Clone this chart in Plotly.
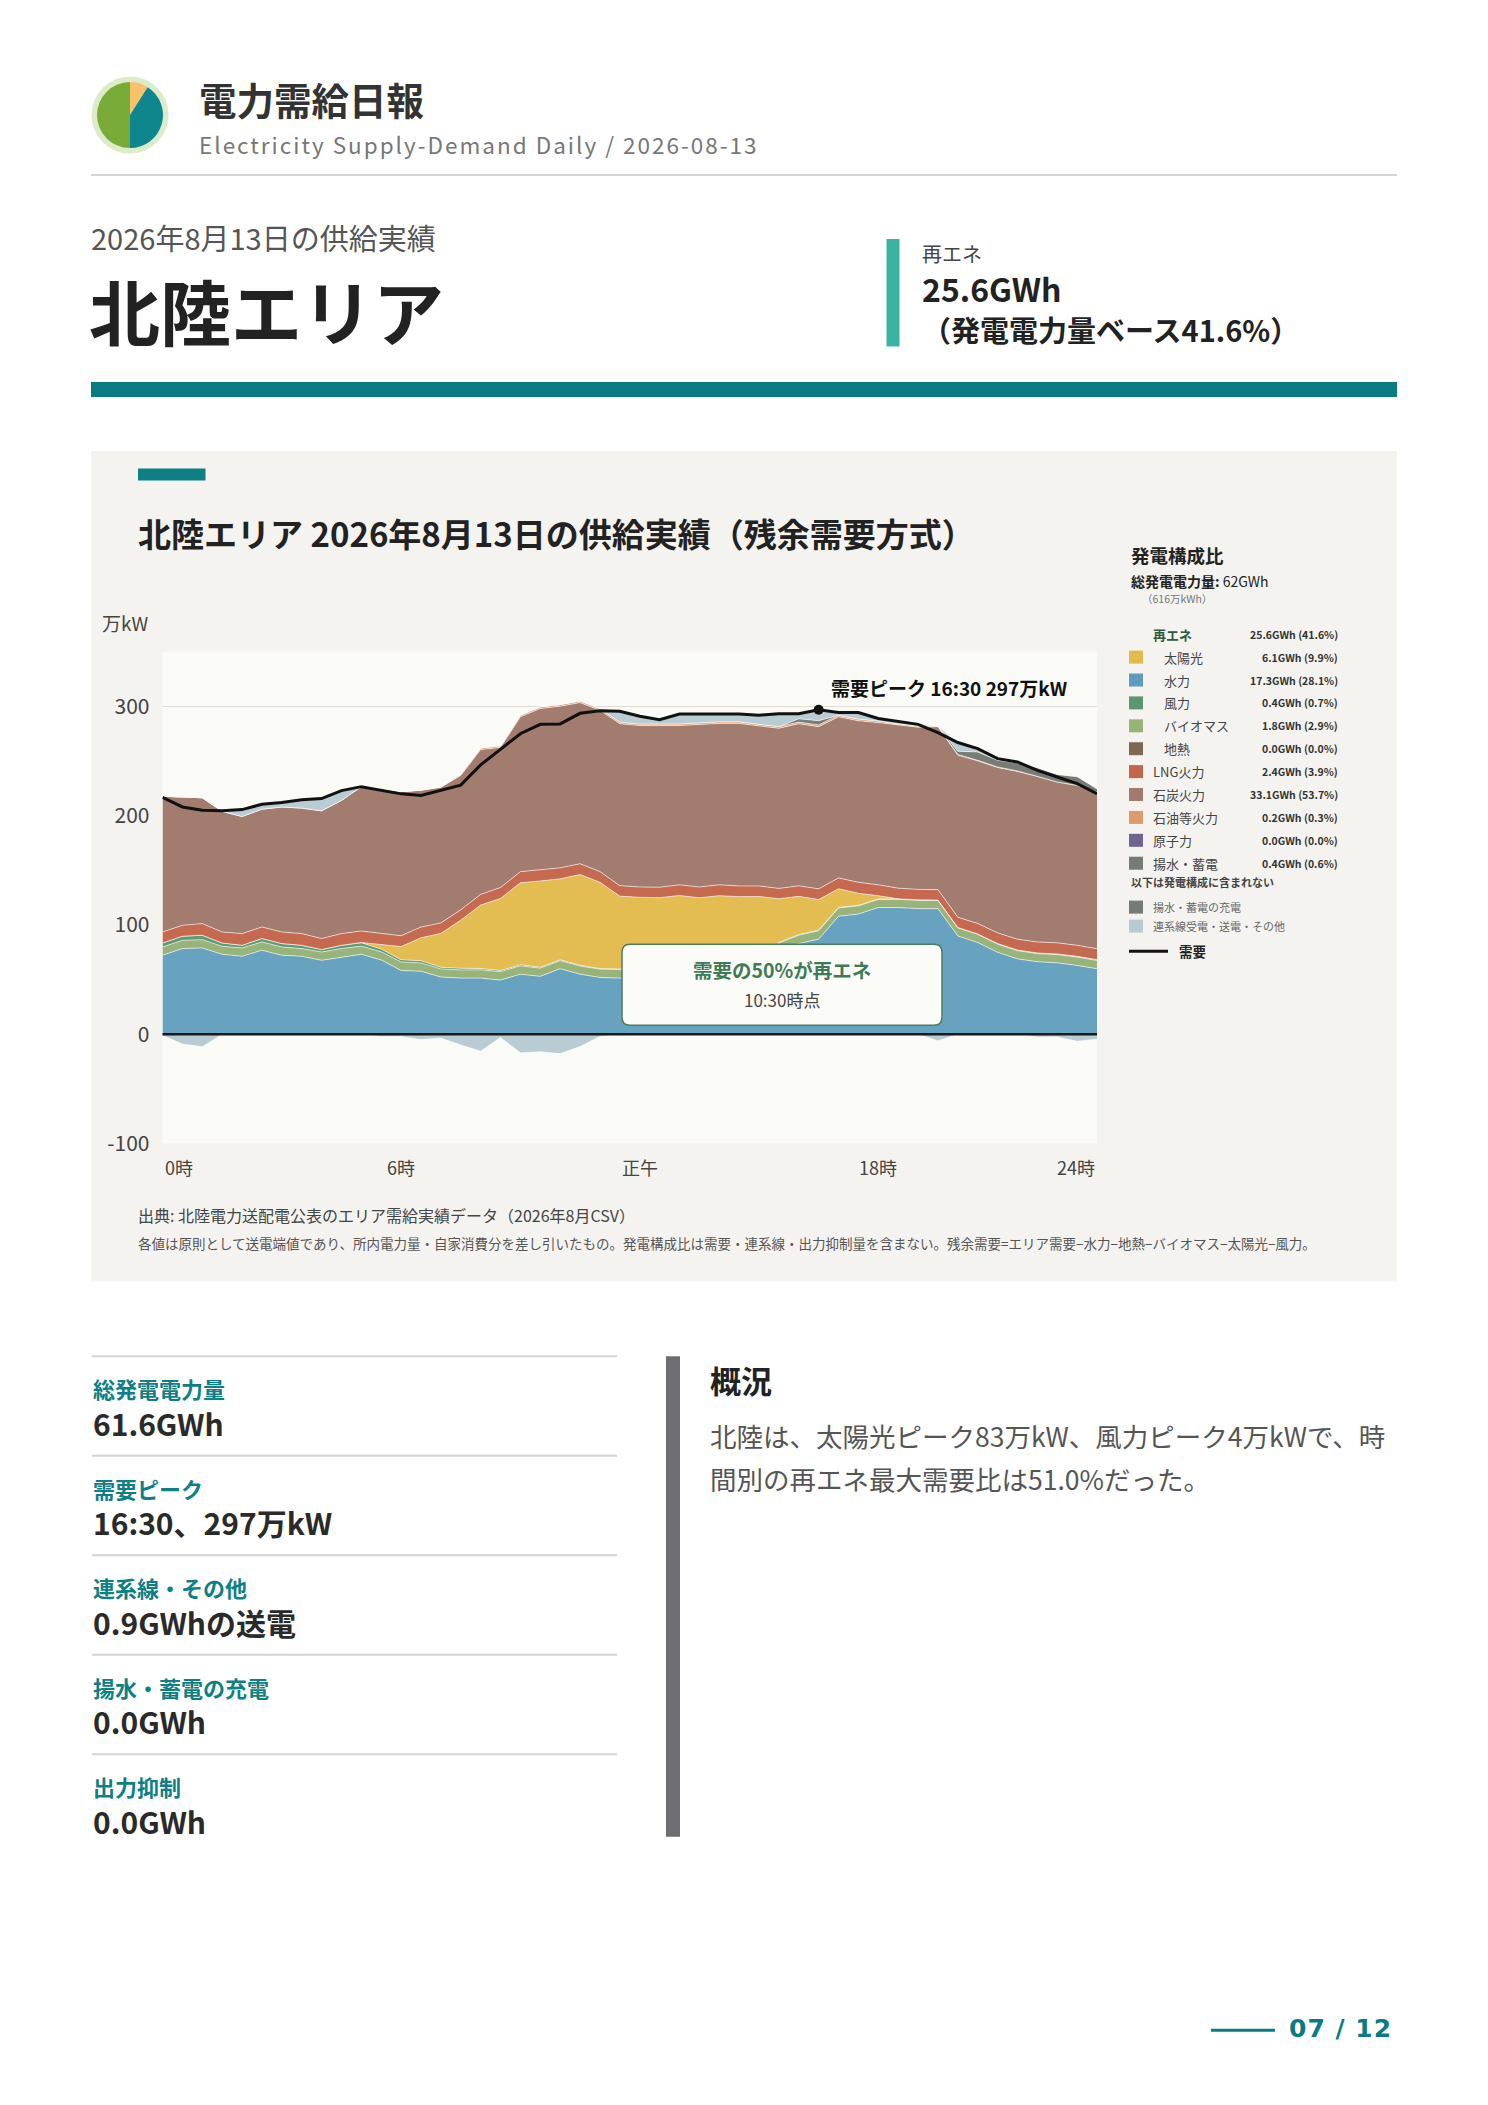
import plotly.graph_objects as go

# ページ座標（1488x2105）で配置。body の余白 8px 分をずらし、縦方向は撮影時の縮みを補正
OFF = 8
KY = 1.0064
W, H = 1440, 2070
FONT = "Noto Sans CJK JP, Noto Sans, sans-serif"

# 30分値 0:00〜23:30（万kW）
times = [f"{h:02d}:{m:02d}" for h in range(24) for m in (0, 30)]

hydro = [72.3, 78.4, 79.0, 73.2, 71.4, 76.9, 72.3, 71.4, 67.7, 70.7,
         73.2, 68.0, 58.4, 57.7, 52.4, 51.4, 51.4, 49.6, 55.0, 53.0,
         60.0, 55.0, 52.0, 51.4, 51.4, 51.0, 51.0, 51.0, 52.0, 53.0,
         58.0, 76.0, 83.0, 87.0, 108.0, 110.0, 116.0, 116.0, 115.0, 115.0,
         90.0, 84.0, 75.0, 69.0, 66.4, 65.4, 63.0, 60.0]
biomass = [7.6, 7.6, 7.6, 7.3, 7.6, 7.6, 7.6, 7.0, 7.6, 7.7,
           7.5, 7.5, 7.8, 7.6, 7.4, 7.5, 7.6, 7.7, 7.6, 7.5,
           7.4, 7.5, 7.6, 7.5, 7.4, 7.5, 7.6, 7.5, 7.4, 7.5,
           7.6, 7.5, 7.6, 7.7, 7.6, 7.5, 7.4, 7.5, 7.6, 7.5,
           7.4, 7.5, 7.6, 7.5, 7.4, 7.5, 7.6, 7.5]
wind = [3.6, 3.7, 4.0, 3.0, 2.4, 3.1, 3.1, 3.0, 2.2, 3.0,
        3.0, 2.5, 2.0, 2.0, 1.5, 1.5, 1.2, 1.0, 1.0, 0.8,
        0.8, 0.6, 0.5, 0.5, 0.5, 0.5, 0.4, 0.4, 0.4, 0.4,
        0.5, 0.5, 0.6, 0.6, 0.5, 0.5, 0.4, 0.4, 0.4, 0.3,
        0.3, 0.3, 0.4, 0.5, 0.6, 0.6, 0.7, 0.8]
solar = [0, 0, 0, 0, 0, 0, 0, 0, 0, 0,
         0.3, 4, 12, 21, 31, 44, 58, 66, 75, 79,
         74, 83, 79, 67, 66, 66, 68, 66, 67, 65,
         60, 40, 35, 28, 17, 11, 3, 0, 0, 0,
         0, 0, 0, 0, 0, 0, 0, 0]
lng = [10.1, 10.0, 10.7, 10.1, 10.7, 10.6, 10.6, 10.7, 10.1, 10.7,
       10.5, 10.2, 10.0, 9.8, 9.6, 9.5, 9.8, 10.0, 10.2, 10.3,
       10.1, 10.0, 9.8, 9.6, 9.5, 9.6, 9.8, 9.9, 10.0, 9.8,
       9.6, 9.5, 9.6, 9.8, 10.0, 10.1, 10.0, 9.8, 9.6, 9.5,
       9.4, 9.6, 9.8, 10.0, 10.1, 10.2, 10.1, 10.0]
coal = [124.2, 117.3, 115.1, 110.4, 107.2, 107.8, 114.4, 114.9, 116.9, 121.9,
        132.1, 132.8, 131.8, 125.3, 124.1, 122.9, 132.5, 128.2, 141.7, 147.5,
        147.9, 147.4, 147.6, 148.2, 147.7, 147.9, 145.7, 148.7, 147.7, 148.8,
        146.8, 146.5, 148.4, 148.4, 147.4, 147.9, 148.4, 149.3, 148.4, 149.2,
        148.4, 148.8, 151.3, 153.5, 151.5, 147.1, 146.4, 143.4]
oil = [0, 0, 0, 0, 0, 0, 0, 0, 0, 0,
       0, 0, 0, 0, 0.5, 1.0, 1.5, 1.5, 1.5, 1.5,
       1.5, 1.5, 1.5, 1.5, 1.5, 1.5, 1.5, 1.5, 1.5, 1.5,
       1.5, 1.5, 1.5, 1.5, 1.5, 1.5, 1.5, 1.0, 1.0, 0.5,
       0.5, 0.5, 0.5, 0.5, 0, 0, 0, 0]
pumped = [0, 0, 0, 0, 0, 0, 0, 0, 0, 0,
          0, 0, 0, 0, 0, 0, 0, 0, 0, 0,
          0, 0, 0, 0, 0, 0, 0, 0, 0, 0,
          0, 0, 3.0, 4.0, 0, 0, 0, 0, 0, 0,
          3.0, 7.6, 6.1, 7.3, 8.0, 7.0, 8.0, 3.0]
# 連系線（+受電 / −送電）
interconnect = [-1.0, -9.0, -11.4, 0.5, 6.3, 4.5, 4.0, 7.7, 11.2, 9.0,
                0.0, -2.0, -2.0, -4.9, -3.5, -9.8, -15.5, -3.0, -17.0, -16.0,
                -17.7, -11.3, -2.0, 9.8, 7.0, 3.8, 9.0, 8.0, 6.7, 7.0,
                8.0, 11.9, 4.7, 10.9, 2.4, 5.9, 2.3, 2.0, 1.6, -6.0,
                8.0, 3.1, 1.5, 0.9, -2.5, -2.4, -6.4, -4.5]
demand = [216.8, 208.0, 205.0, 204.5, 205.6, 210.5, 212.0, 214.7, 215.7, 223.0,
          226.6, 223.0, 220.0, 218.5, 223.0, 228.0, 246.5, 261.0, 275.0, 283.6,
          284.0, 293.7, 296.0, 295.5, 291.0, 287.8, 293.0, 293.0, 292.7, 293.0,
          292.0, 293.4, 293.4, 297.0, 294.4, 294.4, 289.0, 286.0, 283.6, 276.0,
          267.0, 261.4, 252.2, 249.2, 241.5, 235.4, 229.4, 220.2]

xtick_hours = [0, 6, 12, 18, 24]
xtick_labels = ["0時", "6時", "正午", "18時", "24時"]
ytick_vals = [-100, 0, 100, 200, 300]
ytick_text = ["-100", "0", "100", "200", "300"]

# 凡例（発電構成比）
mix_names = ["太陽光", "水力", "風力", "バイオマス", "地熱", "LNG火力", "石炭火力", "石油等火力", "原子力", "揚水・蓄電"]
mix_values = ["6.1GWh (9.9%)", "17.3GWh (28.1%)", "0.4GWh (0.7%)", "1.8GWh (2.9%)", "0.0GWh (0.0%)",
              "2.4GWh (3.9%)", "33.1GWh (53.7%)", "0.2GWh (0.3%)", "0.0GWh (0.0%)", "0.4GWh (0.6%)"]
mix_colors = ["#e2ba4e", "#5d9cc0", "#5a9770", "#97b477", "#7d6a55",
              "#c4664c", "#a27b6e", "#df9a6b", "#6d6592", "#767c74"]
mix_renew = [True, True, True, True, True, False, False, False, False, False]
excluded_names = ["揚水・蓄電の充電", "連系線受電・送電・その他"]
excluded_colors = ["#767c74", "#b8cad2"]

stat_labels = ["総発電電力量", "需要ピーク", "連系線・その他", "揚水・蓄電の充電", "出力抑制"]
stat_values = ["61.6GWh", "16:30、297万kW", "0.9GWhの送電", "0.0GWh", "0.0GWh"]

logo_share = [9, 41, 50]
logo_colors = ["#f6c36b", "#0e868d", "#78ab38"]

hours = [int(t[:2]) + int(t[3:]) / 60 for t in times]
imp_pos = [max(v, 0) for v in interconnect]
imp_neg = [min(v, 0) for v in interconnect]


def px(x):
    return (x - OFF) / W


def py(y):
    return 1 - (y * KY - OFF) / H


fig = go.Figure()

# 積み上げ面（残余需要方式）
stack = [
    (hydro, "#68a2c1"), (biomass, "#98b47a"), (wind, "#5e9a73"), (solar, "#e3bc52"),
    (lng, "#c56a50"), (coal, "#a27c6f"), (oil, "#df9a6b"), (pumped, "#777d75"),
    (imp_pos, "#b9cbd3"),
]
for vals, col in stack:
    fig.add_trace(go.Scatter(
        x=hours, y=vals, stackgroup="pos", mode="lines",
        line=dict(color="rgba(255,255,255,0.75)", width=0.8),
        fillcolor=col, hoverinfo="skip", showlegend=False))
fig.add_trace(go.Scatter(
    x=hours, y=imp_neg, stackgroup="neg", mode="lines",
    line=dict(color="rgba(255,255,255,0.75)", width=0.8),
    fillcolor="#b9cbd3", hoverinfo="skip", showlegend=False))

fig.add_trace(go.Scatter(x=hours, y=demand, mode="lines",
                         line=dict(color="#111111", width=3), hoverinfo="skip", showlegend=False))
ipk = demand.index(max(demand))
fig.add_trace(go.Scatter(x=[hours[ipk]], y=[demand[ipk]], mode="markers",
                         marker=dict(color="#111111", size=10), hoverinfo="skip", showlegend=False))

fig.add_trace(go.Pie(values=logo_share, marker=dict(colors=logo_colors, line=dict(width=0)),
                     sort=False, direction="clockwise", textinfo="none", hoverinfo="skip",
                     domain=dict(x=[px(97), px(163)], y=[py(148), py(82)]), showlegend=False))

x_dom = [px(162.5), px(1097)]
y_dom = [py(1143.4), py(651.7)]
y_rng = [-100, 350]
zero_pos = y_dom[0] + (0 - y_rng[0]) / (y_rng[1] - y_rng[0]) * (y_dom[1] - y_dom[0])

fig.update_layout(
    width=W, height=H, margin=dict(l=0, r=0, t=0, b=0),
    paper_bgcolor="white", plot_bgcolor="rgba(0,0,0,0)",
    font=dict(family=FONT, color="#333"),
    xaxis=dict(domain=x_dom, range=[0, 23.5], showgrid=False, zeroline=False,
               showticklabels=False, fixedrange=True),
    xaxis2=dict(overlaying="x", anchor="free", position=zero_pos, range=[0, 23.5],
                tickvals=xtick_hours[:-1], ticks="outside", ticklen=6, tickcolor="#999",
                showticklabels=False, showgrid=False, zeroline=False, showline=False),
    yaxis=dict(domain=y_dom, range=y_rng, tickvals=ytick_vals, ticktext=ytick_text,
               gridcolor="#e0ddd7", zeroline=False, tickfont=dict(size=21, color="#444"),
               ticklabelstandoff=12, fixedrange=True),
)

# 背景・装飾
shapes = [
    dict(type="rect", xref="paper", yref="paper", x0=px(91), x1=px(1397), y0=py(1281), y1=py(451),
         fillcolor="#f4f3ef", line=dict(width=0), layer="below"),
    dict(type="rect", xref="x domain", yref="y domain", x0=0, x1=1, y0=0, y1=1,
         fillcolor="#fafaf6", line=dict(width=0), layer="below"),
    dict(type="circle", xref="paper", yref="paper", x0=px(91.5), x1=px(168.5), y0=py(153.5), y1=py(76.5),
         fillcolor="#dcebc8", line=dict(width=0), layer="below"),
    dict(type="line", xref="paper", yref="paper", x0=px(91), x1=px(1397), y0=py(175), y1=py(175),
         line=dict(color="#d4d4d4", width=2)),
    dict(type="rect", xref="paper", yref="paper", x0=px(886.5), x1=px(899.5), y0=py(346.5), y1=py(239),
         fillcolor="#3ab4a2", line=dict(width=0)),
    dict(type="rect", xref="paper", yref="paper", x0=px(91), x1=px(1397), y0=py(397), y1=py(382),
         fillcolor="#0a7b83", line=dict(width=0)),
    dict(type="rect", xref="paper", yref="paper", x0=px(138), x1=px(205.5), y0=py(480.5), y1=py(468.5),
         fillcolor="#0f7f86", line=dict(width=0)),
    dict(type="rect", xref="paper", yref="paper", x0=px(666), x1=px(680), y0=py(1836.5), y1=py(1356),
         fillcolor="#6e6e72", line=dict(width=0)),
    dict(type="line", xref="paper", yref="paper", x0=px(1211), x1=px(1275), y0=py(2030), y1=py(2030),
         line=dict(color="#0a7b83", width=3)),
]
for k in range(5):
    yy = 1356 + 99.5 * k
    shapes.append(dict(type="line", xref="paper", yref="paper", x0=px(92), x1=px(617),
                       y0=py(yy), y1=py(yy), line=dict(color="#d3d3d3", width=2)))


def rounded_path(x0, y0, x1, y1, r):
    return (f"M {px(x0 + r)},{py(y0)} L {px(x1 - r)},{py(y0)} Q {px(x1)},{py(y0)} {px(x1)},{py(y0 + r)} "
            f"L {px(x1)},{py(y1 - r)} Q {px(x1)},{py(y1)} {px(x1 - r)},{py(y1)} "
            f"L {px(x0 + r)},{py(y1)} Q {px(x0)},{py(y1)} {px(x0)},{py(y1 - r)} "
            f"L {px(x0)},{py(y0 + r)} Q {px(x0)},{py(y0)} {px(x0 + r)},{py(y0)} Z")


shapes.append(dict(type="path", xref="paper", yref="paper", path=rounded_path(622, 944, 942, 1025, 8),
                   fillcolor="#fbfbf8", line=dict(color="#4b7d5d", width=1.5)))

# 凡例のスウォッチ
leg_y = [657 + 22.9 * k for k in range(len(mix_names))]
for yy, col in zip(leg_y, mix_colors):
    shapes.append(dict(type="rect", xref="paper", yref="paper", x0=px(1129), x1=px(1143),
                       y0=py(yy + 6.5), y1=py(yy - 6.5), fillcolor=col, line=dict(width=0)))
for yy, col in zip([907, 926], excluded_colors):
    shapes.append(dict(type="rect", xref="paper", yref="paper", x0=px(1129), x1=px(1143),
                       y0=py(yy + 6.5), y1=py(yy - 6.5), fillcolor=col, line=dict(width=0)))
shapes.append(dict(type="line", xref="paper", yref="paper", x0=px(1129), x1=px(1168),
                   y0=py(951), y1=py(951), line=dict(color="#111", width=3)))
fig.update_layout(shapes=shapes)
fig.add_hline(y=0, line_color="#1a1a1a", line_width=2.5, layer="above")


def text(x, y, s, size, color="#333", weight="normal", xanchor="left", family=FONT):
    fig.add_annotation(x=px(x), y=py(y), xref="paper", yref="paper", text=s, showarrow=False,
                       xanchor=xanchor, yanchor="middle",
                       font=dict(family=family, size=size, color=color, weight=weight))


# ヘッダー
text(197, 98, "電力需給日報", 37.5, "#333", "bold")
text(197, 144, '<span style="letter-spacing:2px">Electricity Supply-Demand Daily / 2026-08-13</span>',
     22.5, "#777")
text(89, 237, "2026年8月13日の供給実績", 29, "#555")
text(87, 309, "北陸エリア", 71, "#222", "bold")
text(920, 253, "再エネ", 20, "#444")
text(920, 288, "25.6GWh", 32, "#222", "bold")
text(920, 329, "（発電電力量ベース41.6%）", 29, "#222", "bold")

# グラフ
text(136, 533, "北陸エリア 2026年8月13日の供給実績（残余需要方式）", 33, "#222", "bold")
text(100, 622, "万kW", 19, "#444")
for hr, lab in zip(xtick_hours, xtick_labels):
    anchor = "left" if hr == xtick_hours[0] else ("right" if hr == xtick_hours[-1] else "center")
    fig.add_annotation(x=min(hr, 23.5), y=py(1167), xref="x", yref="paper", text=lab, showarrow=False,
                       xanchor=anchor, yanchor="middle", font=dict(family=FONT, size=18, color="#444"))
fig.add_annotation(x=hours[ipk], y=demand[ipk], xref="x", yref="y",
                   text=f"需要ピーク {times[ipk]} {demand[ipk]:.0f}万kW", showarrow=False,
                   xanchor="left", yanchor="middle", xshift=10, yshift=22,
                   font=dict(family=FONT, size=19, color="#111", weight="bold"))
text(782, 969, "需要の50%が再エネ", 19.5, "#3f7a56", "bold", "center")
text(782, 999, "10:30時点", 17, "#444", "normal", "center")
text(136, 1215, "出典: 北陸電力送配電公表のエリア需給実績データ（2026年8月CSV）", 16, "#444")
text(136, 1243, "各値は原則として送電端値であり、所内電力量・自家消費分を差し引いたもの。発電構成比は需要・連系線・出力抑制量を含まない。"
     "残余需要=エリア需要−水力−地熱−バイオマス−太陽光−風力。", 13.5, "#555")

# 凡例テキスト
text(1129, 555, "発電構成比", 18.5, "#222", "bold")
text(1129, 581, "<b>総発電電力量:</b> 62GWh", 14, "#222")
text(1140, 598, "（616万kWh）", 10.5, "#777")
text(1151, 634, "再エネ", 13, "#2d5a3c", "bold")
text(1340, 634, "25.6GWh (41.6%)", 10.5, "#333", "bold", "right")
for yy, name, val, ren in zip(leg_y, mix_names, mix_values, mix_renew):
    text(1162 if ren else 1151, yy, name, 13, "#444")
    text(1340, yy, val, 10.5, "#333", "bold", "right")
text(1129, 882, "以下は発電構成に含まれない", 11, "#444", "bold")
for yy, name in zip([907, 926], excluded_names):
    text(1151, yy, name, 11, "#666")
text(1177, 951, "需要", 13.5, "#222", "bold")

# 下段
for k, (lab, val) in enumerate(zip(stat_labels, stat_values)):
    text(91, 1388 + 99.5 * k, lab, 22, "#0f7f86", "bold")
    text(91, 1422.5 + 99.5 * k, val, 30, "#2a2a2a", "bold")
text(708, 1379, "概況", 31, "#222", "bold")
text(708, 1435.5, "北陸は、太陽光ピーク83万kW、風力ピーク4万kWで、時", 26.5, "#555")
text(708, 1478, "間別の再エネ最大需要比は51.0%だった。", 26.5, "#555")
text(1394, 2028, '<span style="letter-spacing:1px">07 / 12</span>', 25, "#0a7b83", "bold", "right",
     family="DejaVu Sans, sans-serif")

fig.write_html("out.html")
